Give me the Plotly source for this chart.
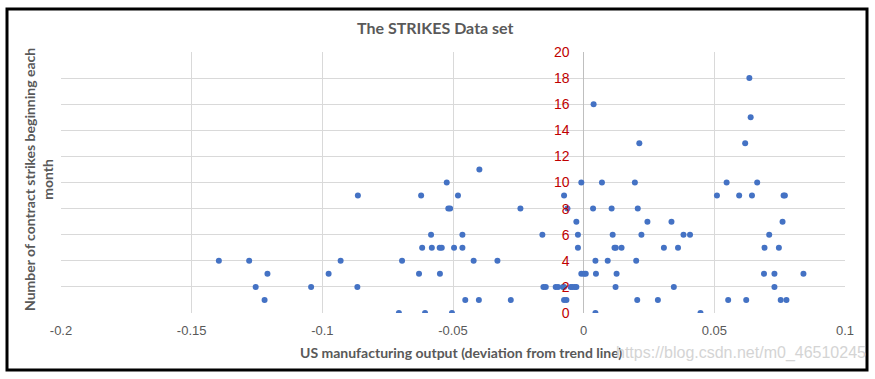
import plotly.graph_objects as go

# US manufacturing output (deviation from trend line)
output_dev = [
    -0.1396, -0.1280, -0.1210, -0.1255, -0.1221, -0.1043, -0.0976, -0.0930, -0.0866, -0.0864,
    -0.0707, -0.0695, -0.0630, -0.0622, -0.0618, -0.0607, -0.0584, -0.0581, -0.0551, -0.0543,
    -0.0550, -0.0524, -0.0518, -0.0511, -0.0504, -0.0496, -0.0481, -0.0464, -0.0464, -0.0453,
    -0.0421, -0.0401, -0.0399, -0.0330, -0.0279, -0.0242, -0.0158, -0.0154, -0.0145, -0.0107,
    -0.0098, -0.0079, -0.0075, -0.0075, -0.0062, -0.0075, -0.0066, -0.0050, -0.0043, -0.0034,
    -0.0028, -0.0028, -0.0022, -0.0022, -0.0009, -0.0009, 0.0001, 0.0008, 0.0038, 0.0036,
    0.0045, 0.0047, 0.0045, 0.0070, 0.0092, 0.0107, 0.0111, 0.0118, 0.0123, 0.0126,
    0.0122, 0.0145, 0.0196, 0.0201, 0.0205, 0.0207, 0.0213, 0.0221, 0.0244, 0.0284,
    0.0307, 0.0336, 0.0345, 0.0361, 0.0382, 0.0407, 0.0447, 0.0634, 0.0639, 0.0618,
    0.0547, 0.0664, 0.0510, 0.0595, 0.0644, 0.0765, 0.0770, 0.0761, 0.0710, 0.0692,
    0.0747, 0.0690, 0.0730, 0.0841, 0.0730, 0.0553, 0.0622, 0.0754, 0.0776,
]
# Number of contract strikes beginning each month
strikes = [
    4, 4, 3, 2, 1, 2, 3, 4, 2, 9,
    0, 4, 3, 9, 5, 0, 6, 5, 5, 5,
    3, 10, 8, 8, 0, 5, 9, 6, 5, 1,
    4, 1, 11, 4, 1, 8, 6, 2, 2, 2,
    2, 2, 2, 9, 8, 1, 1, 2, 2, 2,
    2, 7, 6, 5, 10, 3, 3, 3, 16, 8,
    4, 3, 0, 10, 4, 8, 6, 5, 5, 3,
    2, 5, 10, 4, 1, 8, 13, 6, 7, 1,
    5, 7, 2, 5, 6, 6, 0, 18, 15, 13,
    10, 10, 9, 9, 9, 9, 9, 7, 6, 5,
    5, 3, 3, 3, 2, 1, 1, 1, 1,
]

x_tickvals = [-0.2, -0.15, -0.1, -0.05, 0, 0.05, 0.1]
x_ticktext = ["-0.2", "-0.15", "-0.1", "-0.05", "0", "0.05", "0.1"]
y_tickvals = [0, 2, 4, 6, 8, 10, 12, 14, 16, 18, 20]

title_text = "The STRIKES Data set"
x_title = "US manufacturing output (deviation from trend line)"
y_title = "Number of contract strikes beginning each<br>month"
watermark = "https://blog.csdn.net/m0_46510245"

W, H = 875, 379
L, R, T, B = 61, 30, 52, 66
pw, ph = W - L - R, H - T - B

def px(xp):
    return (xp - L) / pw

def py(yp):
    return (H - B - yp) / ph

fig = go.Figure()
fig.add_trace(go.Scatter(
    x=output_dev, y=strikes, mode="markers",
    marker=dict(color="#4472C4", size=6, line=dict(width=0)),
    showlegend=False,
))

grid = "#d9d9d9"
narrow = "Liberation Sans Narrow, Liberation Sans, sans-serif"
human = "Lato, Open Sans, sans-serif"
fig.update_layout(
    width=W, height=H,
    margin=dict(l=L, r=R, t=T, b=B),
    paper_bgcolor="white", plot_bgcolor="white",
    font=dict(family=narrow, color="#595959"),
    xaxis=dict(
        range=[-0.2, 0.1], tickvals=x_tickvals, ticktext=x_ticktext,
        showgrid=True, gridcolor=grid, gridwidth=1,
        zeroline=True, zerolinecolor="#bfbfbf", zerolinewidth=1,
        showline=False, ticks="",
        ticklabelstandoff=8,
        tickfont=dict(size=13, color="#595959", family=narrow),
    ),
    yaxis=dict(
        range=[0, 20], tickvals=y_tickvals,
        anchor="free", position=2 / 3,
        showgrid=True, gridcolor=grid, gridwidth=1,
        zeroline=False, showline=False, ticks="",
        ticklabelstandoff=14,
        tickfont=dict(size=14, color="#c00000", family=narrow),
    ),
)

fig.add_annotation(
    text=title_text, xref="paper", yref="paper", x=px(435), y=py(27),
    xanchor="center", yanchor="middle", showarrow=False,
    font=dict(size=16, color="#595959", family=human, weight="bold"),
)
fig.add_annotation(
    text=x_title, xref="paper", yref="paper", x=px(461), y=py(352),
    xanchor="center", yanchor="middle", showarrow=False,
    font=dict(size=14, color="#595959", family=human, weight="bold"),
)
fig.add_annotation(
    text=y_title, xref="paper", yref="paper", x=px(38), y=py(180),
    xanchor="center", yanchor="middle", showarrow=False, textangle=-90,
    align="center",
    font=dict(size=14, color="#595959", family=human, weight="bold"),
)
fig.add_annotation(
    text=watermark, xref="paper", yref="paper", x=px(868), y=py(353),
    xanchor="right", yanchor="middle", showarrow=False,
    font=dict(size=16, color="#d4d4d4", family=narrow),
)

fig.add_shape(
    type="rect", xref="paper", yref="paper",
    x0=px(7), x1=px(867), y0=py(370), y1=py(9),
    line=dict(color="black", width=3), layer="above",
)

fig.write_html(
    "out.html",
    config={"displayModeBar": False},
    post_script="document.body.style.margin='0';document.body.style.overflow='hidden';",
)
